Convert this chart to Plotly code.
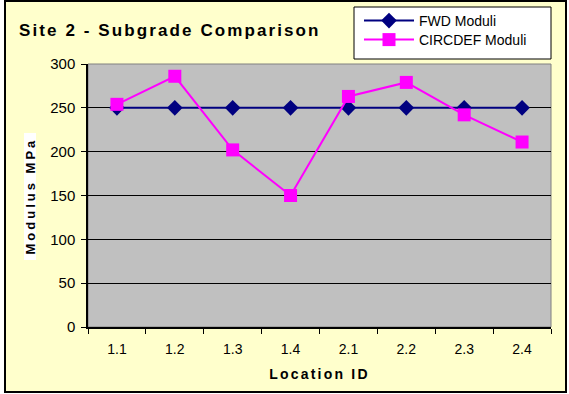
import plotly.graph_objects as go

# Data
locations = ["1.1", "1.2", "1.3", "1.4", "2.1", "2.2", "2.3", "2.4"]
fwd_moduli = [250, 250, 250, 250, 250, 250, 250, 250]
circdef_moduli = [254, 286, 202, 150, 263, 279, 242, 211]

W, H = 569, 394
L, R, T, B = 88, 551, 64, 327  # plot area in pixels
FONT = "Arial, Liberation Sans, sans-serif"


def px(x):
    return (x - L) / (R - L)


def py(y):
    return (B - y) / (B - T)


fig = go.Figure()
fig.add_trace(go.Scatter(
    x=locations, y=fwd_moduli, name="FWD Moduli", mode="lines+markers",
    line=dict(color="#000080", width=2),
    marker=dict(symbol="diamond", size=12, color="#000080"),
    legend="legend",
))
fig.add_trace(go.Scatter(
    x=locations, y=circdef_moduli, name="CIRCDEF Moduli", mode="lines+markers",
    line=dict(color="#FF00FF", width=2),
    marker=dict(symbol="square", size=13, color="#FF00FF"),
    legend="legend2",
))

shapes = [
    # chart area with its border
    dict(type="rect", xref="paper", yref="paper", layer="below",
         x0=px(5), x1=px(566), y0=py(392), y1=py(1),
         fillcolor="#FFFFCC", line=dict(color="black", width=2)),
    # plot area
    dict(type="rect", xref="paper", yref="paper", layer="below",
         x0=0, x1=1, y0=0, y1=1,
         fillcolor="#C0C0C0", line=dict(color="#808080", width=1)),
    # legend box
    dict(type="rect", xref="paper", yref="paper", layer="below",
         x0=px(354), x1=px(551), y0=py(59), y1=py(7),
         fillcolor="white", line=dict(color="black", width=1)),
    # white backing behind the y-axis title
    dict(type="rect", xref="paper", yref="paper", layer="below",
         x0=px(24), x1=px(36), y0=py(260), y1=py(133),
         fillcolor="white", line=dict(width=0)),
]

legend_style = dict(xanchor="left", yanchor="middle",
                    bgcolor="rgba(0,0,0,0)", borderwidth=0, itemwidth=50,
                    font=dict(family=FONT, size=14, color="black"))

fig.update_layout(
    width=W, height=H,
    margin=dict(l=L, r=W - R, t=T, b=H - B, autoexpand=False),
    paper_bgcolor="white",
    plot_bgcolor="rgba(0,0,0,0)",
    font=dict(family=FONT, color="black", size=13),
    title=dict(text="<b>Site 2 - Subgrade Comparison</b>",
               font=dict(family=FONT, size=17, color="black"),
               xref="container", yref="container",
               x=19 / W, xanchor="left", y=1 - 30 / H, yanchor="middle"),
    shapes=shapes,
    showlegend=True,
    legend=dict(x=px(359), y=py(21), **legend_style),
    legend2=dict(x=px(359), y=py(40), **legend_style),
    xaxis=dict(
        type="category", range=[-0.5, 7.5],
        tickson="boundaries", ticks="outside", ticklen=5, tickcolor="black",
        showline=True, linecolor="black", linewidth=1.5,
        showgrid=False, zeroline=False, ticklabelstandoff=8,
        tickfont=dict(family=FONT, size=14, color="black"),
        title=dict(text="<b>Location ID</b>", standoff=14,
                   font=dict(family=FONT, size=14, color="black")),
    ),
    yaxis=dict(
        range=[0, 300], tickvals=[0, 50, 100, 150, 200, 250, 300],
        ticks="outside", ticklen=5, tickcolor="black",
        showline=True, linecolor="black", linewidth=1.5,
        showgrid=True, gridcolor="black", gridwidth=1, zeroline=False,
        ticklabelstandoff=3,
        tickfont=dict(family=FONT, size=15, color="black"),
    ),
    annotations=[
        dict(text="<b>Modulus MPa</b>", xref="paper", yref="paper",
             x=px(30), y=py(196), xanchor="center", yanchor="middle",
             textangle=-90, showarrow=False,
             font=dict(family=FONT, size=13, color="black")),
    ],
)

spacing_js = """
document.querySelectorAll('.gtitle').forEach(function(e){e.style.letterSpacing='2.1px';});
document.querySelectorAll('.xtitle').forEach(function(e){e.style.letterSpacing='2.2px';});
document.querySelectorAll('.annotation-text').forEach(function(e){e.style.letterSpacing='3px';});
"""

fig.write_html("out.html", post_script=spacing_js)
